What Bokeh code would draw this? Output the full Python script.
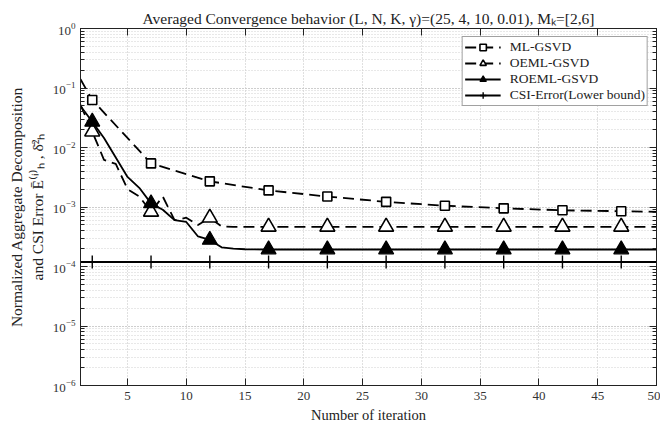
from bokeh.plotting import figure
from bokeh.models import (LogAxis, LinearAxis, FixedTicker, LogTicker, Legend,
                          LegendItem, Range1d, Title, CustomJSTickFormatter)
from bokeh.embed import file_html
from bokeh.resources import INLINE

# ---------------- data ----------------
marker_iters = [2, 7, 12, 17, 22, 27, 32, 37, 42, 47]

ml_iters = [1, 2, 7, 12, 17, 22, 27, 32, 37, 42, 47, 50]
ml_err = [0.14, 0.063, 0.0054, 0.0027, 0.0019, 0.0015, 0.00122, 0.00105,
          0.00095, 0.00088, 0.00085, 0.00083]

oeml_iters = [1, 2, 3, 4, 5, 6, 7, 8, 9, 10, 11, 12, 13, 14,
              17, 22, 27, 32, 37, 42, 47, 50]
oeml_err = [0.052, 0.0185, 0.0062, 0.0053, 0.0020, 0.0015, 0.00083, 0.0015,
            0.0006, 0.00066, 0.0005, 0.00066, 0.00047, 0.000464,
            0.000464, 0.000464, 0.000464, 0.000464, 0.000464, 0.000464,
            0.000464, 0.000464]

roeml_iters = [1, 2, 3, 4, 5, 6, 7, 8, 9, 10, 11, 12, 13, 14, 15,
               17, 22, 27, 32, 37, 42, 47, 50]
roeml_err = [0.05, 0.027, 0.0144, 0.0068, 0.0032, 0.0021, 0.00115, 0.0009,
             0.0006, 0.00056, 0.00032, 0.00028, 0.00021, 0.0002, 0.000195,
             0.000193, 0.000193, 0.000193, 0.000193, 0.000193, 0.000193,
             0.000193, 0.000193]

csi_iters = [1, 2, 7, 12, 17, 22, 27, 32, 37, 42, 47, 50]
csi_err = [0.000119] * 12

x_ticks = [5, 10, 15, 20, 25, 30, 35, 40, 45, 50]

series_names = ["ML-GSVD", "OEML-GSVD", "ROEML-GSVD", "CSI-Error(Lower bound)"]
title_text = "Averaged Convergence behavior (L, N, K, \u03b3)=(25, 4, 10, 0.01), M\u2096=[2,6]"
x_label = "Number of iteration"
y_label = "Normalized Aggregate Decomposition\nand CSI Error \u0112\u207d\u2071\u207e\u2095 , \u03b4\u0304\u00b2\u2095"

FONT = "Liberation Serif"

p = figure(width=660, height=425, output_backend="svg", toolbar_location=None,
           y_axis_type="log", x_range=Range1d(1, 50), y_range=Range1d(1e-6, 1),
           min_border_left=80, min_border_right=4, min_border_top=28,
           min_border_bottom=40)
p.background_fill_color = "white"
p.border_fill_color = "white"
p.outline_line_color = "black"
p.outline_line_width = 1

p.title = Title(text=title_text, align="center", text_font=FONT,
                text_font_size="15.5px", text_font_style="normal",
                text_color="#222222", offset=0, standoff=3)

# axes
xa = p.xaxis[0]
xa.ticker = FixedTicker(ticks=x_ticks)
ya = p.yaxis[0]
ya.ticker = LogTicker(num_minor_ticks=10)
for ax in (xa, ya):
    ax.major_tick_in = 7
    ax.major_tick_out = 0
    ax.minor_tick_in = 4
    ax.minor_tick_out = 0
    ax.axis_line_color = "#222222"
    ax.major_tick_line_color = "#222222"
    ax.minor_tick_line_color = "#222222"
    ax.major_label_text_font = FONT
    ax.major_label_text_font_size = "13px"
    ax.major_label_text_color = "#333333"
    ax.axis_label_text_font = FONT
    ax.axis_label_text_font_style = "normal"
    ax.axis_label_text_color = "#222222"
xa.axis_label_text_font_size = "14.5px"
ya.axis_label_text_font_size = "15.5px"
xa.minor_tick_line_color = None
xa.axis_label = x_label
xa.axis_label_standoff = 4
xa.major_label_standoff = 6
ya.axis_label = y_label
ya.axis_label_standoff = 4
ya.major_label_standoff = 5

# box ticks on top and right (no labels)
blank = CustomJSTickFormatter(code="return ''")
top = LinearAxis(ticker=FixedTicker(ticks=x_ticks), formatter=blank,
                 major_tick_in=7, major_tick_out=0, minor_tick_line_color=None,
                 major_label_standoff=0,
                 axis_line_color="#222222", major_tick_line_color="#222222")
p.add_layout(top, "above")
right = LogAxis(ticker=LogTicker(num_minor_ticks=10), formatter=blank,
                major_tick_in=7, major_tick_out=0, minor_tick_in=4, minor_tick_out=0,
                major_label_standoff=0,
                axis_line_color="#222222", major_tick_line_color="#222222",
                minor_tick_line_color="#222222")
p.add_layout(right, "right")

# grids
p.xgrid.grid_line_color = "#c0c0c0"
p.xgrid.grid_line_dash = "1 2"
p.ygrid.grid_line_color = "#c0c0c0"
p.ygrid.grid_line_dash = "1 2"
p.ygrid.minor_grid_line_color = "#d0d0d0"
p.ygrid.minor_grid_line_dash = "1 2"

DASH = "11 6"
LW = 1.8

def pick(iters, vals):
    xs, ys = [], []
    for i, v in zip(iters, vals):
        if i in marker_iters:
            xs.append(i)
            ys.append(v)
    return xs, ys

# ML-GSVD
l1 = p.line(ml_iters, ml_err, line_color="black", line_width=LW, line_dash=DASH)
mx, my = pick(ml_iters, ml_err)
m1 = p.scatter(mx, my, marker="square", size=9, fill_color="white",
               line_color="black", line_width=1.6)
# OEML-GSVD
l2 = p.line(oeml_iters, oeml_err, line_color="black", line_width=LW, line_dash=DASH)
mx, my = pick(oeml_iters, oeml_err)
m2 = p.scatter(mx, my, marker="triangle", size=15, fill_color="white",
               line_color="black", line_width=1.6)
# ROEML-GSVD
l3 = p.line(roeml_iters, roeml_err, line_color="black", line_width=LW)
mx, my = pick(roeml_iters, roeml_err)
m3 = p.scatter(mx, my, marker="triangle", size=15, fill_color="black",
               line_color="black", line_width=1.2)
# CSI error
l4 = p.line(csi_iters, csi_err, line_color="black", line_width=LW)
mx, my = pick(csi_iters, csi_err)
m4 = p.scatter(mx, my, marker="cross", size=13, line_color="black", line_width=1.4)

legend = Legend(items=[LegendItem(label=series_names[0], renderers=[l1, m1]),
                       LegendItem(label=series_names[1], renderers=[l2, m2]),
                       LegendItem(label=series_names[2], renderers=[l3, m3]),
                       LegendItem(label=series_names[3], renderers=[l4, m4])],
                location="top_right", label_text_font=FONT, label_text_font_size="13.5px",
                label_text_color="#222222", glyph_width=36, glyph_height=16,
                label_height=16, spacing=0, padding=2, margin=8,
                label_standoff=9, border_line_color="#444444", border_line_width=1.2,
                background_fill_color="white", background_fill_alpha=1)
p.add_layout(legend)

open("out.html", "w").write(file_html(p, INLINE))
